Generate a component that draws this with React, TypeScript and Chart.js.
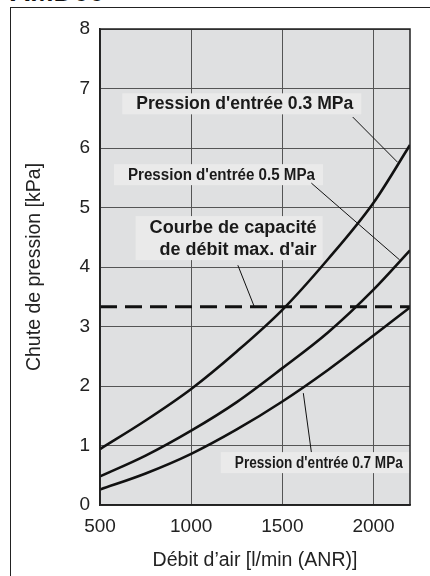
import React, { useEffect, useRef } from "react";
import { Chart, registerables } from "chart.js";

Chart.register(...registerables);

// ---- data ----
const flowValues = [500, 750, 1000, 1250, 1500, 1750, 2000, 2200];
const drop03 = [0.94, 1.42, 1.95, 2.58, 3.28, 4.13, 5.08, 6.05];
const drop05 = [0.48, 0.83, 1.25, 1.73, 2.30, 2.90, 3.62, 4.28];
const drop07 = [0.26, 0.53, 0.86, 1.27, 1.74, 2.27, 2.85, 3.32];
const maxCapacityFlow = [500, 2200];
const maxCapacityDrop = [3.33, 3.33];
const xTickValues = [500, 1000, 1500, 2000];
const yTickValues = [0, 1, 2, 3, 4, 5, 6, 7, 8];

const headerText = "AMD00";
const xTitle = "Débit d’air [l/min (ANR)]";
const yTitle = "Chute de pression [kPa]";

// annotation texts and their anchor points (data coordinates)
const noteTexts = [
  "Pression d'entrée 0.3 MPa",
  "Pression d'entrée 0.5 MPa",
  "Courbe de capacité",
  "de débit max. d'air",
  "Pression d'entrée 0.7 MPa",
];
const noteFlow = [1294, 1166, 1230, 1257, 1700];
const noteDrop = [6.65, 5.46, 4.57, 4.2, 0.62];

// leader lines (data coordinates)
const leaderFlow = [
  [1886, 2132],
  [1659, 2143],
  [1256, 1349],
  [1615, 1659],
];
const leaderDrop = [
  [6.52, 5.76],
  [5.41, 4.12],
  [4.03, 3.31],
  [1.88, 0.89],
];

const SANS = "'Liberation Sans', Arial, Helvetica, sans-serif";

const noteStyle = [
  { size: 18, width: 217, box: true },
  { size: 16, width: 187, box: true },
  { size: 18, width: 167, box: false },
  { size: 18, width: 157, box: false },
  { size: 16, width: 168, box: true },
];

function toPoints(xs: number[], ys: number[]) {
  return xs.map((x, i) => ({ x, y: ys[i] }));
}

const plotPlugin = {
  id: "plotDecor",
  beforeDraw(chart: any) {
    const { ctx, chartArea: a } = chart;
    ctx.save();
    ctx.fillStyle = "#dfe0e1";
    ctx.fillRect(a.left, a.top, a.right - a.left, a.bottom - a.top);
    ctx.restore();
  },
  beforeDatasetsDraw(chart: any) {
    const { ctx } = chart;
    const xs = chart.scales.x;
    const ys = chart.scales.y;
    ctx.save();
    const boxes: number[][] = [];
    noteTexts.forEach((t, i) => {
      const st = noteStyle[i];
      const cx = xs.getPixelForValue(noteFlow[i]);
      const by = ys.getPixelForValue(noteDrop[i]);
      boxes.push([cx - st.width / 2, by, st.width, st.size]);
    });
    ctx.fillStyle = "#eaeaea";
    {
      const b1 = boxes[2];
      const b2 = boxes[3];
      const left = Math.min(b1[0], b2[0]) - 14;
      const right = Math.max(b1[0] + b1[2], b2[0] + b2[2]) + 6;
      ctx.fillRect(left, b1[1] - 17, right - left, b2[1] + 5 - (b1[1] - 17));
    }
    [0, 1, 4].forEach((i) => {
      const b = boxes[i];
      ctx.fillRect(b[0] - 14, b[1] - 16, b[2] + 22, 21);
    });
    ctx.fillStyle = "#1a1a1a";
    ctx.textBaseline = "alphabetic";
    ctx.textAlign = "left";
    noteTexts.forEach((t, i) => {
      const st = noteStyle[i];
      const b = boxes[i];
      ctx.font = `bold ${st.size}px ${SANS}`;
      const w = ctx.measureText(t).width;
      ctx.save();
      ctx.translate(b[0], b[1]);
      ctx.scale(st.width / w, 1);
      ctx.fillText(t, 0, 0);
      ctx.restore();
    });
    ctx.restore();
  },
  afterDatasetsDraw(chart: any) {
    const { ctx, chartArea: a } = chart;
    ctx.save();
    ctx.strokeStyle = "#222";
    ctx.lineWidth = 1.5;
    ctx.strokeRect(a.left, a.top, a.right - a.left, a.bottom - a.top);
    ctx.restore();
  },
};

export default function App() {
  const canvasRef = useRef<HTMLCanvasElement | null>(null);

  useEffect(() => {
    document.body.style.margin = "0";
    const canvas = canvasRef.current;
    if (!canvas) return;

    const curve = (data: number[]) => ({
      data: toPoints(flowValues, data),
      borderColor: "#111",
      borderWidth: 2.6,
      pointRadius: 0,
      cubicInterpolationMode: "monotone" as const,
      fill: false,
    });

    const leaders = leaderFlow.map((fx, i) => ({
      data: toPoints(fx, leaderDrop[i]),
      borderColor: "#111",
      borderWidth: 1,
      pointRadius: 0,
      fill: false,
    }));

    const chart = new Chart(canvas, {
      type: "line",
      data: {
        datasets: [
          curve(drop03),
          curve(drop05),
          curve(drop07),
          {
            data: toPoints(maxCapacityFlow, maxCapacityDrop),
            borderColor: "#111",
            borderWidth: 3,
            borderDash: [17, 8],
            pointRadius: 0,
            fill: false,
          },
          ...leaders,
        ] as any,
      },
      options: {
        animation: false,
        responsive: false,
        maintainAspectRatio: false,
        devicePixelRatio: 1,
        layout: { padding: { left: 0, right: 20, top: 29, bottom: 0 } },
        plugins: {
          legend: { display: false },
          tooltip: { enabled: false },
        },
        scales: {
          x: {
            type: "linear",
            min: 500,
            max: 2200,
            afterBuildTicks: (s: any) => {
              s.ticks = xTickValues.map((v) => ({ value: v }));
            },
            afterFit: (s: any) => {
              s.height = 71;
            },
            grid: { color: "#555", lineWidth: 1, drawTicks: false },
            border: { display: true, color: "#222", width: 1.5 },
            ticks: {
              padding: 10,
              color: "#222",
              font: { family: SANS, size: 19 },
              maxRotation: 0,
              callback: (v: any) => String(v),
            },
            title: {
              display: true,
              text: xTitle,
              color: "#222",
              font: { family: SANS, size: 19.5 },
              padding: { top: 0, bottom: 4 },
            },
          },
          y: {
            type: "linear",
            min: 0,
            max: 8,
            afterBuildTicks: (s: any) => {
              s.ticks = yTickValues.map((v) => ({ value: v }));
            },
            afterFit: (s: any) => {
              s.width = 100;
            },
            grid: { color: "#555", lineWidth: 1, drawTicks: false },
            border: { display: true, color: "#222", width: 1.5 },
            ticks: {
              padding: 10,
              color: "#222",
              font: { family: SANS, size: 19 },
              callback: (v: any) => String(v),
            },
            title: {
              display: true,
              text: yTitle,
              color: "#222",
              font: { family: SANS, size: 19.5 },
              padding: { top: 23, bottom: 0 },
            },
          },
        },
      },
      plugins: [plotPlugin],
    });

    return () => chart.destroy();
  }, []);

  return (
    <div style={{ position: "relative", width: 430, height: 576, overflow: "hidden", background: "#fff" }}>
      <div
        style={{
          position: "absolute",
          left: 10,
          top: 7,
          width: 430,
          height: 580,
          borderLeft: "1.5px solid #222",
          borderTop: "1.5px solid #222",
        }}
      />
      <div
        style={{
          position: "absolute",
          left: 10,
          top: -22,
          fontFamily: SANS,
          fontWeight: "bold",
          fontSize: 28,
          lineHeight: "28px",
          color: "#111",
          whiteSpace: "nowrap",
        }}
      >
        {headerText}
      </div>
      <canvas ref={canvasRef} width={430} height={576} style={{ position: "absolute", left: 0, top: 0, width: 430, height: 576 }} />
    </div>
  );
}
